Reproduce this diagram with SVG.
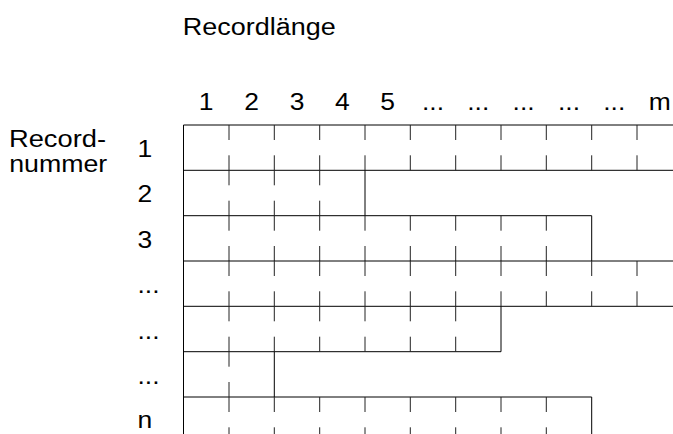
<svg xmlns="http://www.w3.org/2000/svg" width="673" height="434" viewBox="0 0 673 434">
<style>
  text { font-family: "Liberation Sans", Arial, sans-serif; font-size: 23px; fill: #000; }
  .hd { text-anchor: middle; }
  .ln { stroke: #000; stroke-width: 1; fill: none; }
  .tk { stroke: #222; stroke-width: 1; fill: none; }
</style>
<rect width="673" height="434" fill="#fff"/>
<g id="title">
  <text x="182.7" y="34.5" textLength="153" lengthAdjust="spacingAndGlyphs">Recordlänge</text>
</g>
<g id="axis-label">
  <text x="9" y="147" textLength="97" lengthAdjust="spacingAndGlyphs">Record-</text>
  <text x="9.2" y="172" textLength="98" lengthAdjust="spacingAndGlyphs">nummer</text>
</g>
<g id="column-headers">
  <text class="hd" transform="translate(206.2,110) scale(1.15,1)">1</text>
  <text class="hd" transform="translate(251.6,110) scale(1.15,1)">2</text>
  <text class="hd" transform="translate(297,110) scale(1.15,1)">3</text>
  <text class="hd" transform="translate(342.3,110) scale(1.15,1)">4</text>
  <text class="hd" transform="translate(387.6,110) scale(1.15,1)">5</text>
  <text class="hd" transform="translate(433,110) scale(1.15,1)">...</text>
  <text class="hd" transform="translate(478.3,110) scale(1.15,1)">...</text>
  <text class="hd" transform="translate(523.6,110) scale(1.15,1)">...</text>
  <text class="hd" transform="translate(569,110) scale(1.15,1)">...</text>
  <text class="hd" transform="translate(614.3,110) scale(1.15,1)">...</text>
  <text class="hd" transform="translate(659.7,110) scale(1.15,1)">m</text>
</g>
<g id="row-labels">
  <text transform="translate(137.5,156.7) scale(1.15,1)">1</text>
  <text transform="translate(137.5,202) scale(1.15,1)">2</text>
  <text transform="translate(137.5,248) scale(1.15,1)">3</text>
  <text transform="translate(137.5,293) scale(1.15,1)">...</text>
  <text transform="translate(137.5,339) scale(1.15,1)">...</text>
  <text transform="translate(137.5,384) scale(1.15,1)">...</text>
  <text transform="translate(137.5,428) scale(1.15,1)">n</text>
</g>
<g id="grid">
  <line class="ln" x1="183.5" y1="125" x2="183.5" y2="434"/>
  <g id="row1">
    <path class="ln" d="M183.5 125H673M183.5 170.3H673"/>
    <path class="tk" d="M229 125v15M274.3 125v15M319.7 125v15M365 125v15M410.3 125v15M455.7 125v15M501 125v15M546.3 125v15M591.7 125v15M637 125v15
      M229 155.3v15M274.3 155.3v15M319.7 155.3v15M365 155.3v15M410.3 155.3v15M455.7 155.3v15M501 155.3v15M546.3 155.3v15M591.7 155.3v15M637 155.3v15"/>
  </g>
  <g id="row2">
    <path class="ln" d="M183.5 215.7H365V170.3"/>
    <path class="tk" d="M229 170.3v15M274.3 170.3v15M319.7 170.3v15M229 200.7v15M274.3 200.7v15M319.7 200.7v15"/>
  </g>
  <g id="row3">
    <path class="ln" d="M365 215.7H591.7V261"/>
    <path class="tk" d="M229 215.7v15M274.3 215.7v15M319.7 215.7v15M365 215.7v15M410.3 215.7v15M455.7 215.7v15M501 215.7v15M546.3 215.7v15
      M229 246v15M274.3 246v15M319.7 246v15M365 246v15M410.3 246v15M455.7 246v15M501 246v15M546.3 246v15"/>
  </g>
  <g id="row4">
    <path class="ln" d="M183.5 261H673M183.5 306.3H673"/>
    <path class="tk" d="M229 261v15M274.3 261v15M319.7 261v15M365 261v15M410.3 261v15M455.7 261v15M501 261v15M546.3 261v15M591.7 261v15M637 261v15
      M229 291.3v15M274.3 291.3v15M319.7 291.3v15M365 291.3v15M410.3 291.3v15M455.7 291.3v15M501 291.3v15M546.3 291.3v15M591.7 291.3v15M637 291.3v15"/>
  </g>
  <g id="row5">
    <path class="ln" d="M183.5 351.7H501V306.3"/>
    <path class="tk" d="M229 306.3v15M274.3 306.3v15M319.7 306.3v15M365 306.3v15M410.3 306.3v15M455.7 306.3v15
      M229 336.7v15M274.3 336.7v15M319.7 336.7v15M365 336.7v15M410.3 336.7v15M455.7 336.7v15"/>
  </g>
  <g id="row6">
    <path class="ln" d="M183.5 397H274.3V351.7"/>
    <path class="tk" d="M229 351.7v15M229 382v15"/>
  </g>
  <g id="row7">
    <path class="ln" d="M274.3 397H591.7V442"/>
    <path class="tk" d="M229 397v15M274.3 397v15M319.7 397v15M365 397v15M410.3 397v15M455.7 397v15M501 397v15M546.3 397v15
      M229 427.3v15M274.3 427.3v15M319.7 427.3v15M365 427.3v15M410.3 427.3v15M455.7 427.3v15M501 427.3v15M546.3 427.3v15"/>
  </g>
</g>
</svg>
